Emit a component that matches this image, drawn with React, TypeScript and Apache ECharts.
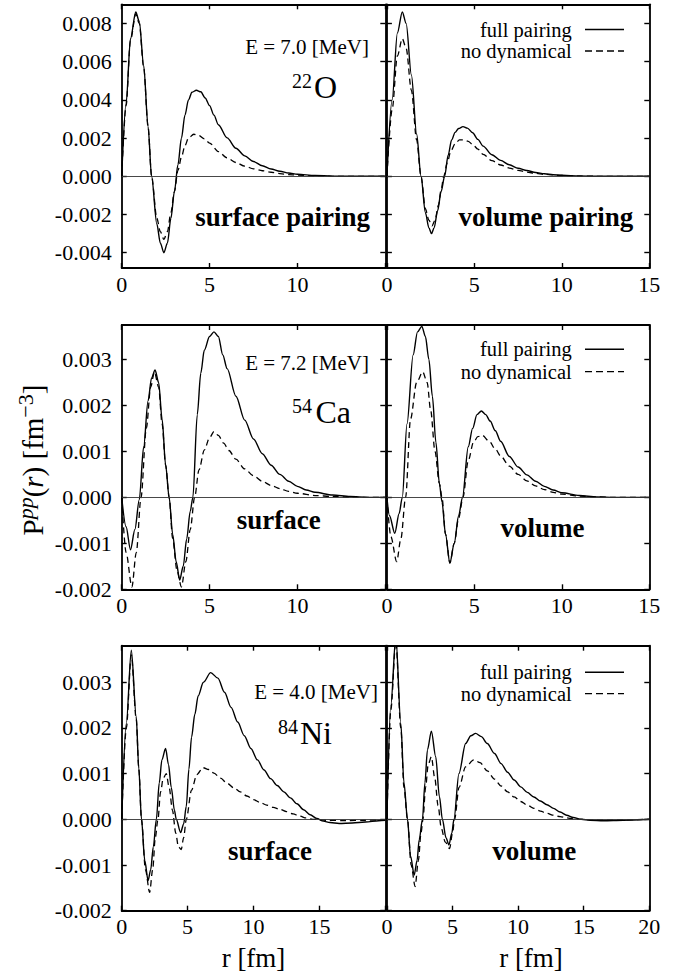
import React, { useEffect, useRef } from "react";
import * as echarts from "echarts";

const SERIF = "Liberation Serif";

// ---- tick values ----
const X_TICKS_15 = [0, 5, 10, 15];
const X_TICKS_20 = [0, 5, 10, 15, 20];
const Y_TICKS_O = [-0.004, -0.002, 0, 0.002, 0.004, 0.006, 0.008];
const Y_TICKS_CA = [-0.002, -0.001, 0, 0.001, 0.002, 0.003];
const Y_TICKS_NI = [-0.002, -0.001, 0, 0.001, 0.002, 0.003];

// ---- texts ----
const SERIES_NAMES = ["full pairing", "no dynamical"];
const ENERGY_LABELS = ["E = 7.0 [MeV]", "E = 7.2 [MeV]", "E = 4.0 [MeV]"];
const NUCLEUS_MASS = ["22", "54", "84"];
const NUCLEUS_SYMBOL = ["O", "Ca", "Ni"];
const PAIRING_LEFT = ["surface pairing", "surface", "surface"];
const PAIRING_RIGHT = ["volume pairing", "volume", "volume"];
const X_NAME = "r [fm]";

// ---- data: [r (fm), P^pp(r) (fm^-3)] ----
const O22_SURF_FULL: [number, number][] = [
  [0, 0], [0.25, 0.0038], [0.5, 0.0072], [0.8, 0.0086], [1.0, 0.0081], [1.25, 0.0058],
  [1.5, 0.0026], [1.7, 0.0], [2.0, -0.0025], [2.2, -0.0035], [2.4, -0.004], [2.6, -0.0035],
  [2.8, -0.0022], [3.0, -0.0008], [3.2, 0.0006], [3.4, 0.002], [3.6, 0.0032], [3.8, 0.004],
  [4.0, 0.0044], [4.25, 0.0045], [4.5, 0.00442], [4.75, 0.0041], [5.0, 0.0037], [5.25, 0.0032],
  [5.5, 0.0027], [6.0, 0.00201], [6.5, 0.00147], [7.0, 0.00107], [7.5, 0.00077], [8.0, 0.00055],
  [8.5, 0.00038], [9.0, 0.00026], [9.5, 0.00017], [10, 0.00011], [11, 0.00004], [12, 0.00001],
  [13, 0], [15, 0],
];
const O22_SURF_NODYN: [number, number][] = [
  [0, 0], [0.25, 0.0037], [0.5, 0.0071], [0.8, 0.0085], [1.0, 0.008], [1.25, 0.0057],
  [1.5, 0.0026], [1.7, 0.0], [2.0, -0.0022], [2.2, -0.0029], [2.4, -0.0033], [2.6, -0.0029],
  [2.8, -0.0019], [3.0, -0.0008], [3.2, 0.0003], [3.4, 0.001], [3.6, 0.0016], [3.8, 0.002],
  [4.1, 0.0022], [4.4, 0.00213], [4.7, 0.00196], [5.0, 0.00174], [5.5, 0.00129], [6.0, 0.00096],
  [6.5, 0.00072], [7.0, 0.00053], [7.5, 0.00039], [8.0, 0.00029], [8.5, 0.00021], [9.0, 0.00014],
  [9.5, 0.00009], [10, 0.00006], [11, 0.00002], [12, 0], [15, 0],
];
const O22_VOL_FULL: [number, number][] = [
  [0, 0], [0.3, 0.004], [0.6, 0.0075], [0.88, 0.0086], [1.1, 0.008], [1.4, 0.0053],
  [1.7, 0.0022], [1.95, 0], [2.2, -0.0019], [2.4, -0.0027], [2.55, -0.003], [2.7, -0.0027],
  [2.9, -0.0018], [3.1, -0.0008], [3.3, 0], [3.5, 0.0011], [3.7, 0.0019], [3.9, 0.0023],
  [4.1, 0.0025], [4.35, 0.0026], [4.6, 0.00252], [4.9, 0.00228], [5.2, 0.00193], [5.5, 0.00158],
  [6.0, 0.00113], [6.5, 0.00083], [7.0, 0.0006], [7.5, 0.00042], [8.0, 0.0003], [8.5, 0.0002],
  [9.0, 0.00013], [9.5, 0.00008], [10, 0.00005], [11, 0.00002], [12, 0], [15, 0],
];
const O22_VOL_NODYN: [number, number][] = [
  [0, 0], [0.3, 0.0035], [0.6, 0.0063], [0.88, 0.0072], [1.1, 0.0067], [1.4, 0.0045],
  [1.7, 0.0019], [1.95, 0], [2.2, -0.0017], [2.4, -0.0023], [2.58, -0.0026], [2.75, -0.0023],
  [2.95, -0.0015], [3.1, -0.0007], [3.25, 0], [3.45, 0.0007], [3.65, 0.0013], [3.9, 0.0017],
  [4.15, 0.0019], [4.4, 0.0019], [4.65, 0.00183], [4.9, 0.00167], [5.2, 0.00142], [5.5, 0.00115],
  [6.0, 0.00082], [6.5, 0.00059], [7.0, 0.00043], [7.5, 0.00031], [8.0, 0.00022], [8.5, 0.00015],
  [9.0, 0.0001], [10, 0.00004], [11, 0.00001], [12, 0], [15, 0],
];
const CA54_SURF_FULL: [number, number][] = [
  [0, 0], [0.25, -0.00064], [0.5, -0.00114], [0.75, -0.0007], [1.0, -0.00005], [1.25, 0.0011],
  [1.5, 0.0021], [1.7, 0.0026], [1.9, 0.00277], [2.1, 0.0025], [2.3, 0.0017], [2.5, 0.0007],
  [2.7, 0], [2.9, -0.0008], [3.1, -0.0014], [3.3, -0.0018], [3.5, -0.0015], [3.7, -0.0009],
  [3.9, -0.0003], [4.05, 0], [4.3, 0.0018], [4.5, 0.0027], [4.7, 0.0032], [5.0, 0.0035],
  [5.25, 0.0036], [5.5, 0.0035], [5.75, 0.0031], [6.0, 0.0028], [6.5, 0.0022], [7.0, 0.00168],
  [7.5, 0.00127], [8.0, 0.00095], [8.5, 0.0007], [9.0, 0.0005], [9.5, 0.00035], [10, 0.00024],
  [10.5, 0.00016], [11, 0.00011], [12, 0.00005], [13, 0.00002], [14, 0], [15, 0],
];
const CA54_SURF_NODYN: [number, number][] = [
  [0, 0], [0.25, -0.0012], [0.58, -0.00195], [0.83, -0.0012], [1.1, 0], [1.4, 0.0015],
  [1.65, 0.0024], [1.86, 0.00273], [2.1, 0.0024], [2.3, 0.0016], [2.5, 0.0007], [2.7, 0],
  [2.9, -0.0009], [3.15, -0.0016], [3.4, -0.00195], [3.65, -0.0014], [3.9, -0.0007], [4.15, 0],
  [4.4, 0.0006], [4.7, 0.00103], [5.0, 0.0013], [5.25, 0.00143], [5.5, 0.00135], [5.8, 0.00118],
  [6.1, 0.00102], [6.5, 0.00083], [7.0, 0.00062], [7.5, 0.00047], [8.0, 0.00035], [8.5, 0.00026],
  [9.0, 0.00019], [9.5, 0.00013], [10, 0.00009], [11, 0.00004], [12, 0.00002], [13, 0], [15, 0],
];
const CA54_VOL_FULL: [number, number][] = [
  [0, 0], [0.15, -0.0004], [0.45, -0.00078], [0.7, -0.00035], [0.88, 0], [1.15, 0.0016],
  [1.5, 0.0031], [1.75, 0.0036], [2.0, 0.00372], [2.2, 0.0035], [2.4, 0.003], [2.6, 0.0022],
  [2.8, 0.0012], [3.0, 0.0003], [3.15, -0.0001], [3.35, -0.0008], [3.6, -0.00143], [3.85, -0.001],
  [4.1, -0.0004], [4.32, 0], [4.65, 0.0011], [4.9, 0.0015], [5.15, 0.0018], [5.4, 0.00188],
  [5.65, 0.0018], [5.9, 0.00166], [6.2, 0.00145], [6.5, 0.00122], [7.0, 0.00089], [7.5, 0.00066],
  [8.0, 0.00049], [8.5, 0.00035], [9.0, 0.00024], [9.5, 0.00016], [10, 0.0001], [11, 0.00004],
  [12, 0.00001], [13, 0], [15, 0],
];
const CA54_VOL_NODYN: [number, number][] = [
  [0, 0], [0.23, -0.00086], [0.56, -0.0014], [0.8, -0.0009], [1.07, 0], [1.35, 0.0017],
  [1.7, 0.0025], [2.05, 0.00273], [2.3, 0.0025], [2.5, 0.0019], [2.75, 0.001], [3.0, 0.0003],
  [3.15, 0], [3.35, -0.0008], [3.6, -0.00143], [3.85, -0.001], [4.1, -0.00045], [4.35, 0],
  [4.65, 0.0008], [4.95, 0.0012], [5.2, 0.00132], [5.45, 0.00135], [5.85, 0.00122], [6.2, 0.00105],
  [6.5, 0.0009], [7.0, 0.00068], [7.5, 0.0005], [8.0, 0.00036], [8.5, 0.00025], [9.0, 0.00017],
  [9.5, 0.00011], [10, 0.00007], [11, 0.00003], [12, 0.00001], [13, 0], [15, 0],
];
const NI84_SURF_FULL: [number, number][] = [
  [0, 0], [0.35, 0.0021], [0.73, 0.0037], [1.1, 0.00225], [1.3, 0.0011], [1.5, 0],
  [1.75, -0.0009], [2.0, -0.00134], [2.2, -0.0011], [2.4, -0.0006], [2.63, 0], [2.85, 0.0008],
  [3.05, 0.0013], [3.33, 0.00155], [3.55, 0.0012], [3.76, 0.0007], [4.0, 0.0002], [4.14, 0],
  [4.47, -0.00029], [4.7, -0.0001], [4.9, 0.00028], [5.1, 0.0011], [5.3, 0.0018], [5.55, 0.0023],
  [5.8, 0.0027], [6.2, 0.003], [6.75, 0.00321], [7.3, 0.00309], [7.8, 0.00278], [8.3, 0.00245],
  [8.8, 0.00213], [9.3, 0.00183], [9.8, 0.00155], [10.3, 0.0013], [10.8, 0.00108], [11.3, 0.00089],
  [11.8, 0.00074], [12.3, 0.0006], [12.8, 0.00047], [13.3, 0.00034], [13.8, 0.00021], [14.3, 0.0001],
  [14.8, 0.00002], [15.3, -0.00004], [15.8, -0.00007], [16.5, -0.00009], [17.5, -0.00008],
  [18.5, -0.00006], [19.5, -0.00003], [20, -0.00002],
];
const NI84_SURF_NODYN: [number, number][] = [
  [0, 0], [0.35, 0.002], [0.73, 0.0036], [1.1, 0.0022], [1.3, 0.0011], [1.5, 0],
  [1.8, -0.0011], [2.12, -0.0016], [2.35, -0.0011], [2.55, -0.0004], [2.75, 0], [2.95, 0.0006],
  [3.15, 0.0009], [3.38, 0.001], [3.6, 0.0007], [3.85, 0.0002], [4.1, -0.0003], [4.3, -0.0006],
  [4.52, -0.00066], [4.7, -0.0004], [4.9, 0], [5.3, 0.00064], [5.7, 0.00098], [6.16, 0.00113],
  [6.6, 0.00109], [7.0, 0.00101], [7.5, 0.0009], [8.0, 0.00079], [8.5, 0.00069], [9.0, 0.0006],
  [9.5, 0.00051], [10, 0.00043], [10.5, 0.00037], [11, 0.00031], [11.5, 0.00026], [12, 0.00022],
  [12.5, 0.00017], [13, 0.00012], [13.5, 0.00007], [14, 0.00003], [14.5, 0], [15.5, -0.00002],
  [17, -0.00003], [18.5, -0.00002], [20, -0.00001],
];
const NI84_VOL_FULL: [number, number][] = [
  [0, 0], [0.3, 0.0025], [0.68, 0.004], [1.06, 0.0021], [1.3, 0.0008], [1.57, 0],
  [1.8, -0.0008], [2.08, -0.00122], [2.3, -0.0009], [2.46, -0.00045], [2.71, 0], [2.9, 0.0008],
  [3.09, 0.00152], [3.39, 0.00193], [3.72, 0.00137], [4.0, 0.0005], [4.23, 0], [4.5, -0.0004],
  [4.73, -0.00056], [4.95, -0.0003], [5.11, 0], [5.49, 0.001], [6.0, 0.00166], [6.4, 0.00183],
  [6.76, 0.00188], [7.2, 0.00181], [7.65, 0.00166], [8.2, 0.00144], [8.7, 0.00122], [9.2, 0.00103],
  [9.7, 0.00086], [10.2, 0.00071], [10.7, 0.00059], [11.2, 0.00049], [11.7, 0.0004], [12.2, 0.00032],
  [12.7, 0.00024], [13.2, 0.00016], [13.7, 0.00009], [14.2, 0.00004], [14.8, 0], [15.5, -0.00002],
  [16.5, -0.00003], [18, -0.00002], [20, 0],
];
const NI84_VOL_NODYN: [number, number][] = [
  [0, 0], [0.3, 0.0024], [0.68, 0.0039], [1.06, 0.002], [1.3, 0.0007], [1.57, 0],
  [1.85, -0.001], [2.15, -0.00147], [2.4, -0.0009], [2.6, -0.0003], [2.75, 0], [2.95, 0.0007],
  [3.15, 0.0012], [3.39, 0.00137], [3.65, 0.0009], [3.9, 0.0003], [4.15, -0.0002], [4.45, -0.0005],
  [4.78, -0.00064], [5.0, -0.0003], [5.16, 0], [5.5, 0.0007], [6.0, 0.00115], [6.63, 0.0013],
  [7.1, 0.00124], [7.65, 0.00106], [8.2, 0.00088], [8.7, 0.00073], [9.2, 0.0006], [9.7, 0.00049],
  [10.2, 0.00039], [10.7, 0.00031], [11.2, 0.00024], [11.7, 0.00018], [12.2, 0.00013], [12.7, 0.00009],
  [13.2, 0.00006], [13.7, 0.00003], [14.2, 0.00001], [14.8, 0], [16, -0.00002], [20, 0],
];

// ---- layout (pixels) ----
const ROWS = [
  { top: 4.3, height: 263.7, ymin: -0.0048, ymax: 0.009, xmax: 15, xticks: X_TICKS_15, yticks: Y_TICKS_O },
  { top: 325, height: 264.3, ymin: -0.002, ymax: 0.00375, xmax: 15, xticks: X_TICKS_15, yticks: Y_TICKS_CA },
  { top: 645.7, height: 265, ymin: -0.002, ymax: 0.0038, xmax: 20, xticks: X_TICKS_20, yticks: Y_TICKS_NI },
];
const COLS = [
  { left: 121.7, width: 263.6 },
  { left: 386.9, width: 262.4 },
];

const PANEL_DATA = [
  [O22_SURF_FULL, O22_SURF_NODYN], [O22_VOL_FULL, O22_VOL_NODYN],
  [CA54_SURF_FULL, CA54_SURF_NODYN], [CA54_VOL_FULL, CA54_VOL_NODYN],
  [NI84_SURF_FULL, NI84_SURF_NODYN], [NI84_VOL_FULL, NI84_VOL_NODYN],
];

const BLACK = "#000";

function txt(x: number, y: number, text: string, size: number, align: string, vAlign = "middle", weight = "normal", style = "normal") {
  return {
    type: "text",
    x,
    y,
    z: 100,
    silent: true,
    style: {
      text,
      fill: BLACK,
      fontFamily: SERIF,
      fontSize: size,
      fontWeight: weight,
      fontStyle: style,
      align,
      verticalAlign: vAlign,
      textAlign: align,
      textVerticalAlign: vAlign,
    },
  };
}

function buildOption() {
  const grid: any[] = [];
  const xAxis: any[] = [];
  const yAxis: any[] = [];
  const series: any[] = [];

  ROWS.forEach((row, r) => {
    COLS.forEach((col, c) => {
      const g = r * 2 + c;
      grid.push({ left: col.left, top: row.top, width: col.width, height: row.height, show: false, containLabel: false });
      const lineStyle = { color: BLACK, width: 1.8 };
      const tickStyle = { color: BLACK, width: 1.4 };
      const xLabels = c === 0 ? row.xticks.slice(0, -1) : row.xticks;
      ["bottom", "top"].forEach((pos) => {
        xAxis.push({
          type: "value",
          gridIndex: g,
          position: pos,
          min: 0,
          max: row.xmax,
          axisLine: { show: true, onZero: false, lineStyle },
          axisTick: { show: true, inside: true, length: 5, customValues: row.xticks, lineStyle: tickStyle },
          axisLabel: {
            show: pos === "bottom",
            customValues: xLabels,
            formatter: (v: number) => String(Math.round(v)),
            fontFamily: SERIF,
            fontSize: 22,
            color: BLACK,
            margin: 5,
          },
          splitLine: { show: false },
        });
      });
      ["left", "right"].forEach((pos) => {
        yAxis.push({
          type: "value",
          gridIndex: g,
          position: pos,
          min: row.ymin,
          max: row.ymax,
          axisLine: { show: true, onZero: false, lineStyle },
          axisTick: { show: true, inside: true, length: 5, customValues: row.yticks, lineStyle: tickStyle },
          axisLabel: {
            show: pos === "left" && c === 0,
            customValues: row.yticks,
            formatter: (v: number) => (Math.abs(v) < 1e-12 ? 0 : v).toFixed(3),
            fontFamily: SERIF,
            fontSize: 22,
            color: BLACK,
            margin: 10,
          },
          splitLine: { show: false },
        });
      });

      const [full, nodyn] = PANEL_DATA[g];
      series.push({
        name: SERIES_NAMES[0],
        type: "line",
        xAxisIndex: 2 * g,
        yAxisIndex: 2 * g,
        data: full,
        showSymbol: false,
        symbol: "none",
        smooth: 0.3,
        smoothMonotone: "x",
        silent: true,
        z: 3,
        lineStyle: { color: BLACK, width: 1.4 },
        markLine: {
          silent: true,
          symbol: ["none", "none"],
          label: { show: false },
          lineStyle: { color: "#333", width: 0.9, type: "solid" },
          data: [{ yAxis: 0 }],
        },
      });
      series.push({
        name: SERIES_NAMES[1],
        type: "line",
        xAxisIndex: 2 * g,
        yAxisIndex: 2 * g,
        data: nodyn,
        showSymbol: false,
        symbol: "none",
        smooth: 0.3,
        smoothMonotone: "x",
        silent: true,
        z: 2,
        lineStyle: { color: BLACK, width: 1.3, type: [6, 4] },
      });
    });
  });

  // ---- annotations ----
  const graphic: any[] = [];
  const energyX = [369, 369, 378];
  const energyY = [46.7, 363.3, 691.7];
  const nucX = [337, 351, 332];
  const supX = [312, 312, 298];
  const nucY = [86.7, 411.7, 733.3];
  for (let r = 0; r < 3; r++) {
    graphic.push(txt(energyX[r], energyY[r], ENERGY_LABELS[r], 21, "right"));
    graphic.push(txt(nucX[r], nucY[r], NUCLEUS_SYMBOL[r], 32, "right"));
    graphic.push(txt(supX[r], nucY[r] - 6, NUCLEUS_MASS[r], 20, "right"));
  }
  graphic.push(txt(370, 216.7, PAIRING_LEFT[0], 27, "right", "middle", "bold"));
  graphic.push(txt(633.3, 216.7, PAIRING_RIGHT[0], 27, "right", "middle", "bold"));
  graphic.push(txt(278.8, 520, PAIRING_LEFT[1], 27, "center", "middle", "bold"));
  graphic.push(txt(542.5, 528.3, PAIRING_RIGHT[1], 27, "center", "middle", "bold"));
  graphic.push(txt(270, 850.7, PAIRING_LEFT[2], 27, "center", "middle", "bold"));
  graphic.push(txt(534.2, 850.7, PAIRING_RIGHT[2], 27, "center", "middle", "bold"));

  // legends in right panels
  const legFullY = [29.5, 349.3, 672.2];
  const legNoY = [51, 371.7, 693.6];
  for (let r = 0; r < 3; r++) {
    graphic.push(txt(571.7, legFullY[r], SERIES_NAMES[0], 20.5, "right"));
    graphic.push(txt(571.7, legNoY[r], SERIES_NAMES[1], 20.5, "right"));
    graphic.push({
      type: "line", z: 100, silent: true,
      shape: { x1: 585, y1: legFullY[r], x2: 624, y2: legFullY[r] },
      style: { stroke: BLACK, lineWidth: 1.4 },
    });
    graphic.push({
      type: "line", z: 100, silent: true,
      shape: { x1: 585, y1: legNoY[r], x2: 624, y2: legNoY[r] },
      style: { stroke: BLACK, lineWidth: 1.3, lineDash: [7, 4] },
    });
  }

  // axis names
  graphic.push(txt(253.5, 958.3, X_NAME, 27, "center"));
  graphic.push(txt(531, 958.3, X_NAME, 27, "center"));

  graphic.push({
    type: "group",
    x: 33,
    y: 460,
    rotation: Math.PI / 2,
    silent: true,
    children: [
      {
        type: "text",
        z: 100,
        style: {
          text: "{m|P}{si|pp}{m|(}{mi|r}{m|) [fm}{su|−3}{m|]}",
          align: "center",
          verticalAlign: "middle",
          textAlign: "center",
          textVerticalAlign: "middle",
          fill: BLACK,
          rich: {
            m: { fontFamily: SERIF, fontSize: 29, lineHeight: 38, fill: BLACK, color: BLACK },
            mi: { fontFamily: SERIF, fontSize: 29, lineHeight: 38, fontStyle: "italic", fill: BLACK, color: BLACK },
            si: { fontFamily: SERIF, fontSize: 22, lineHeight: 22, fontStyle: "italic", verticalAlign: "top", fill: BLACK, color: BLACK },
            su: { fontFamily: SERIF, fontSize: 22, lineHeight: 22, verticalAlign: "top", fill: BLACK, color: BLACK },
          },
        },
      },
    ],
  });

  return {
    animation: false,
    backgroundColor: "#fff",
    grid,
    xAxis,
    yAxis,
    series,
    graphic,
  };
}

export default function App() {
  const ref = useRef<HTMLDivElement>(null);
  useEffect(() => {
    if (!ref.current) return;
    const chart = echarts.init(ref.current, undefined, { renderer: "svg" });
    chart.setOption(buildOption() as any);
    return () => chart.dispose();
  }, []);
  return (
    <div
      ref={ref}
      style={{ position: "absolute", left: 0, top: 0, width: 684, height: 977, background: "#fff" }}
    />
  );
}
